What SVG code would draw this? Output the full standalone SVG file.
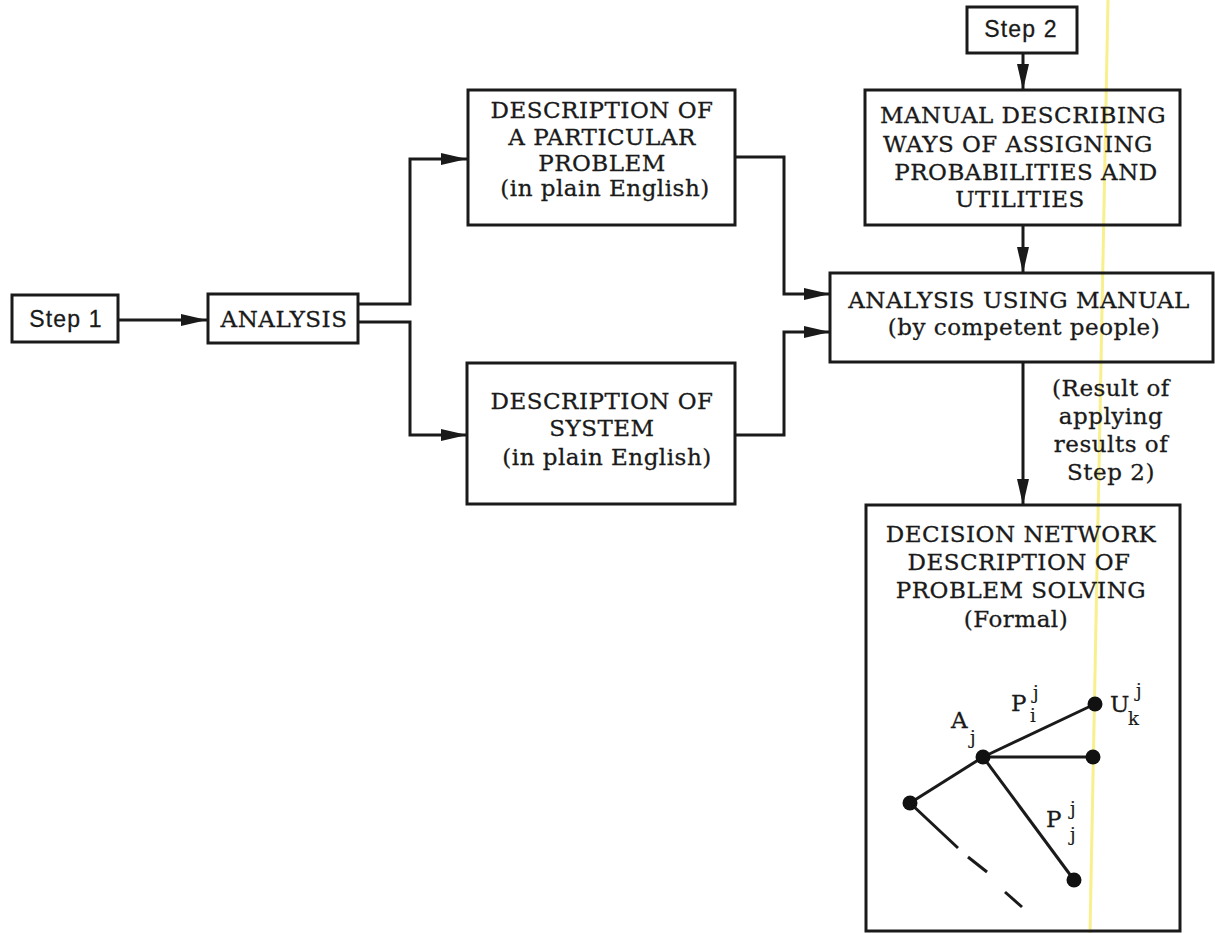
<svg xmlns="http://www.w3.org/2000/svg" width="1215" height="933" viewBox="0 0 1215 933">
  <defs>
    <marker id="arr" markerUnits="userSpaceOnUse" markerWidth="27" markerHeight="15" refX="26" refY="7.5" orient="auto">
      <path d="M0,1.5 L26,7.5 L0,13.5 Z" fill="#1a1a1a"/>
    </marker>
  </defs>
  <style>
    .box { fill: none; stroke: #1a1a1a; stroke-width: 3; }
    .t { font-family: "DejaVu Serif", "Liberation Serif", serif; font-size: 23px; fill: #1a1a1a; stroke: #1a1a1a; stroke-width: 0.3; text-anchor: middle; letter-spacing: 0.5px; }
    .s { font-family: "Liberation Sans", Arial, sans-serif; font-size: 23px; fill: #1a1a1a; stroke: #1a1a1a; stroke-width: 0.3; text-anchor: middle; letter-spacing: 1.2px; }
    .c { fill: none; stroke: #1a1a1a; stroke-width: 3; }
    .e { fill: none; stroke: #1a1a1a; stroke-width: 3; }
    .m { font-family: "DejaVu Serif", "Liberation Serif", serif; font-size: 23px; fill: #1a1a1a; stroke: #1a1a1a; stroke-width: 0.3; }
    .sb { font-family: "DejaVu Serif", "Liberation Serif", serif; font-size: 18px; fill: #1a1a1a; stroke: #1a1a1a; stroke-width: 0.2; }
  </style>
  <rect width="1215" height="933" fill="#fff"/>
  <line x1="1108" y1="0" x2="1090" y2="933" stroke="#f7ee7a" stroke-width="3" opacity="0.85"/>

  <g id="connectors">
    <path class="c" d="M118,320 L207,320" marker-end="url(#arr)"/>
    <path class="c" d="M358,304 L410,304 L410,159 L467,159" marker-end="url(#arr)"/>
    <path class="c" d="M358,322 L410,322 L410,435 L467,435" marker-end="url(#arr)"/>
    <path class="c" d="M735,157 L784,157 L784,294 L830,294" marker-end="url(#arr)"/>
    <path class="c" d="M735,435 L784,435 L784,332 L830,332" marker-end="url(#arr)"/>
    <path class="c" d="M1023,53 L1023,90" marker-end="url(#arr)"/>
    <path class="c" d="M1023,225 L1023,273" marker-end="url(#arr)"/>
    <path class="c" d="M1023,362 L1023,505" marker-end="url(#arr)"/>
    <g id="edge-label">
      <text class="t" x="1111" y="396">(Result of</text>
      <text class="t" x="1111" y="424">applying</text>
      <text class="t" x="1111" y="452">results of</text>
      <text class="t" x="1111" y="480">Step 2)</text>
    </g>
  </g>

  <g id="step1">
    <rect class="box" x="12" y="295" width="106" height="47"/>
    <text class="s" x="66" y="327">Step 1</text>
  </g>

  <g id="analysis">
    <rect class="box" x="208" y="294" width="150" height="49"/>
    <text class="t" x="284" y="327">ANALYSIS</text>
  </g>

  <g id="problem">
    <rect class="box" x="468" y="90" width="267" height="135"/>
    <text class="t" x="602" y="118">DESCRIPTION OF</text>
    <text class="t" x="602" y="145">A PARTICULAR</text>
    <text class="t" x="602" y="171">PROBLEM</text>
    <text class="t" x="605" y="196">(in plain English)</text>
  </g>

  <g id="system">
    <rect class="box" x="467" y="363" width="268" height="141"/>
    <text class="t" x="602" y="409">DESCRIPTION OF</text>
    <text class="t" x="602" y="436">SYSTEM</text>
    <text class="t" x="607" y="465">(in plain English)</text>
  </g>

  <g id="step2">
    <rect class="box" x="967" y="7" width="110" height="46"/>
    <text class="s" x="1021" y="37">Step 2</text>
  </g>

  <g id="manual">
    <rect class="box" x="865" y="90" width="315" height="135"/>
    <text class="t" x="1023" y="123">MANUAL DESCRIBING</text>
    <text class="t" x="1018" y="152">WAYS OF ASSIGNING</text>
    <text class="t" x="1026" y="180">PROBABILITIES AND</text>
    <text class="t" x="1020" y="207">UTILITIES</text>
  </g>

  <g id="analysis-manual">
    <rect class="box" x="830" y="273" width="383" height="89"/>
    <text class="t" x="1019" y="308">ANALYSIS USING MANUAL</text>
    <text class="t" x="1024" y="335">(by competent people)</text>
  </g>

  <g id="decision">
    <rect class="box" x="866" y="505" width="314" height="426"/>
    <text class="t" x="1021" y="542">DECISION NETWORK</text>
    <text class="t" x="1019" y="570">DESCRIPTION OF</text>
    <text class="t" x="1021" y="598">PROBLEM SOLVING</text>
    <text class="t" x="1016" y="627">(Formal)</text>
    <g id="tree">
      <line class="e" x1="983" y1="757" x2="1095" y2="704"/>
      <line class="e" x1="983" y1="757" x2="1093" y2="757"/>
      <line class="e" x1="983" y1="757" x2="1074" y2="880"/>
      <line class="e" x1="983" y1="757" x2="910" y2="803"/>
      <line class="e" x1="910" y1="803" x2="958" y2="848"/>
      <line class="e" x1="968" y1="857" x2="987" y2="872"/>
      <line class="e" x1="1005" y1="892" x2="1022" y2="907"/>
      <circle cx="983" cy="757" r="7.5" fill="#111"/>
      <circle cx="1095" cy="704" r="7.5" fill="#111"/>
      <circle cx="1093" cy="757" r="7.5" fill="#111"/>
      <circle cx="910" cy="803" r="7.5" fill="#111"/>
      <circle cx="1074" cy="880" r="7.5" fill="#111"/>
      <text class="m" x="1011" y="711">P</text>
      <text class="sb" x="1033" y="699">j</text>
      <text class="sb" x="1030" y="722">i</text>
      <text class="m" x="1110" y="712">U</text>
      <text class="sb" x="1136" y="697">j</text>
      <text class="sb" x="1128" y="725">k</text>
      <text class="m" x="951" y="728">A</text>
      <text class="sb" x="970" y="744">j</text>
      <text class="m" x="1046" y="827">P</text>
      <text class="sb" x="1070" y="815">j</text>
      <text class="sb" x="1070" y="841">j</text>
    </g>
  </g>
</svg>
